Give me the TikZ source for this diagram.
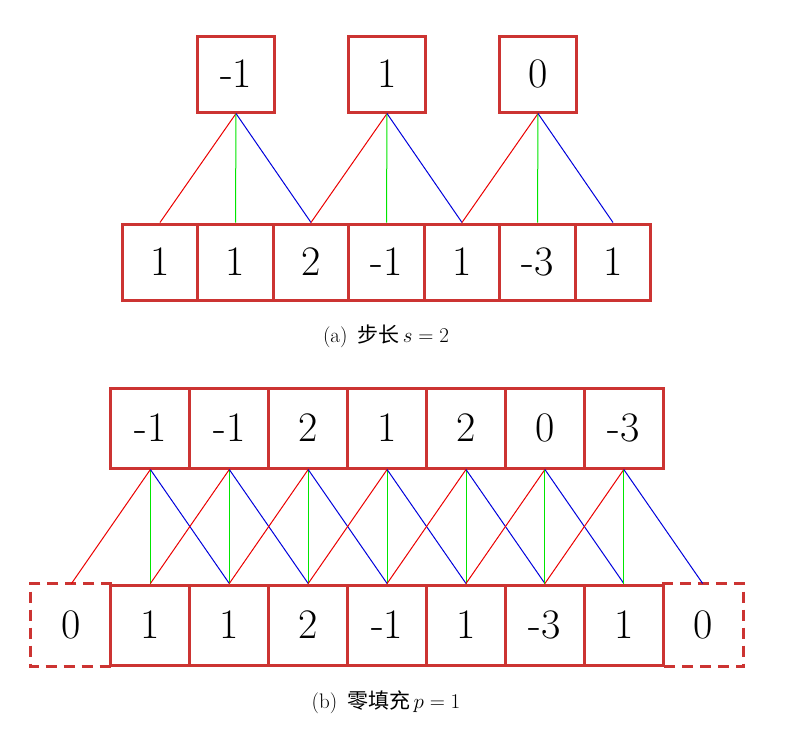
\RequirePackage{fix-cm}
\documentclass[tikz,border=0pt]{standalone}
\usepackage{fontspec}
\newfontfamily\cjk{Noto Sans CJK SC}
\definecolor{boxred}{RGB}{204,52,50}
\definecolor{lred}{RGB}{235,0,0}
\definecolor{lgreen}{RGB}{0,230,0}
\definecolor{lblue}{RGB}{0,0,220}
\tikzset{
  cella/.style={draw=boxred, line width=3pt, minimum width=75.5pt, minimum height=76pt, inner sep=0pt, font=\fontsize{42}{42}\selectfont},
  cellb/.style={draw=boxred, line width=3pt, minimum width=78.9pt, minimum height=80pt, inner sep=0pt, font=\fontsize{42}{42}\selectfont},
  ghost/.style={cellb, draw=none},
  dashedge/.style={draw=boxred, line width=3pt, dash pattern=on 11pt off 7pt},
  lr/.style={draw=lred, line width=1pt},
  lg/.style={draw=lgreen, line width=1pt},
  lb/.style={draw=lblue, line width=1pt},
  capt/.style={font=\fontsize{21}{25}\selectfont}
}
\begin{document}
\begin{tikzpicture}[x=1pt,y=-1pt]
\useasboundingbox (0,0) rectangle (785,745);
% (a)
\node[cella, minimum width=77pt] (t1) at (236,74) {-1};
\node[cella, minimum width=77pt] (t2) at (387,74) {1};
\node[cella, minimum width=77pt] (t3) at (538,74) {0};
\foreach \v [count=\k] in {1,1,2,-1,1,-3,1} {
  \node[cella] (a\k) at ({160+(\k-1)*75.5},262) {\v};
}
\foreach \t/\c in {1/2,2/4,3/6} {
  \pgfmathtruncatemacro{\l}{\c-1}
  \pgfmathtruncatemacro{\r}{\c+1}
  \draw[lr] (t\t.south) -- (a\l.north);
  \draw[lg] (t\t.south) -- (a\c.north);
  \draw[lb] (t\t.south) -- (a\r.north);
}
\node[capt] (capa) at (386,336) {(a)\, {\cjk 步长}\,$s=2$};
% (b)
\foreach \v [count=\k] in {-1,-1,2,1,2,0,-3} {
  \node[cellb] (u\k) at ({150.4+(\k-1)*78.9},428) {\v};
}
\node[ghost] (b0) at (71.5,625) {0};
\node[ghost] (b8) at ({150.4+7*78.9},625) {0};
\foreach \v [count=\k] in {1,1,2,-1,1,-3,1} {
  \node[cellb] (b\k) at ({150.4+(\k-1)*78.9},625) {\v};
}
\draw[dashedge] (b0.north east) -- (b0.north west) -- (b0.south west) -- (b0.south east);
\draw[dashedge] (b8.north west) -- (b8.north east) -- (b8.south east) -- (b8.south west);
\foreach \k in {1,...,7} {
  \pgfmathtruncatemacro{\l}{\k-1}
  \pgfmathtruncatemacro{\r}{\k+1}
  \draw[lr] (u\k.south) -- (b\l.north);
  \draw[lg] (u\k.south) -- (b\k.north);
  \draw[lb] (u\k.south) -- (b\r.north);
}
\node[capt] (capb) at (386,702) {(b)\, {\cjk 零填充}\,$p=1$};
\end{tikzpicture}
\end{document}
